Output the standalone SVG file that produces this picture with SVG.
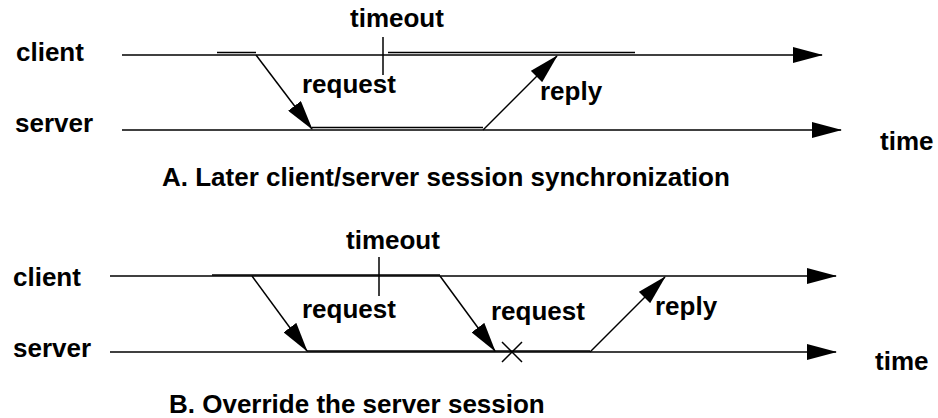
<svg xmlns="http://www.w3.org/2000/svg" width="938" height="418" viewBox="0 0 938 418">
<style>
text{font-family:"Liberation Sans",Arial,sans-serif;font-weight:bold;font-size:26px;fill:#000}
.ln{stroke:#000;stroke-width:1.5;fill:none}
.arr{stroke:#000;stroke-width:1.5;fill:none;marker-end:url(#ah)}
</style>
<defs>
<marker id="ah" viewBox="0 0 30 16" markerWidth="30" markerHeight="16" refX="29" refY="8" orient="auto" markerUnits="userSpaceOnUse">
<path d="M0,0 L30,8 L0,16 z" fill="#000"/>
</marker>
</defs>
<g id="diagramA">
<g id="A-client"><text x="16" y="61">client</text></g>
<g id="A-server"><text x="15" y="132">server</text></g>
<g id="A-timeout"><text x="350" y="27">timeout</text><line class="ln" x1="383" y1="37" x2="383" y2="75"/></g>
<g id="A-request-label"><text x="302" y="93">request</text></g>
<g id="A-reply-label"><text x="540" y="100">reply</text></g>
<g id="A-time"><text x="880" y="150">time</text></g>
<g id="A-title"><text x="162" y="186">A. Later client/server session synchronization</text></g>
</g>
<g id="diagramB">
<g id="B-client"><text x="13" y="286">client</text></g>
<g id="B-server"><text x="13" y="357">server</text></g>
<g id="B-timeout"><text x="346" y="249">timeout</text><line class="ln" x1="379" y1="257" x2="379" y2="296"/></g>
<g id="B-request1-label"><text x="302" y="318">request</text></g>
<g id="B-request2-label"><text x="491" y="320">request</text></g>
<g id="B-reply-label"><text x="655" y="315">reply</text></g>
<g id="B-time"><text x="875" y="370">time</text></g>
<g id="B-title"><text x="169" y="413">B. Override the server session</text></g>
<g id="B-lost"><path class="ln" d="M502,342 L522,362 M522,342 L502,362"/></g>
</g>
<g id="connectors">
<line class="arr" x1="122" y1="55" x2="822" y2="55"/>
<line class="arr" x1="122" y1="130" x2="841" y2="130"/>
<line class="ln" x1="217" y1="52.5" x2="256" y2="52.5"/>
<line class="ln" x1="388" y1="52.5" x2="635" y2="52.5"/>
<line class="ln" x1="312" y1="127.5" x2="483" y2="127.5"/>
<line class="arr" x1="256" y1="55" x2="312" y2="129"/>
<line class="arr" x1="483" y1="130" x2="557" y2="56"/>
<line class="arr" x1="110" y1="276" x2="836" y2="276"/>
<line class="arr" x1="110" y1="352" x2="836" y2="352"/>
<line class="ln" x1="212" y1="275" x2="440" y2="275"/>
<line class="ln" x1="307" y1="351" x2="590" y2="351"/>
<line class="arr" x1="252" y1="276" x2="307" y2="351"/>
<line class="arr" x1="440" y1="276" x2="495" y2="351"/>
<line class="arr" x1="590" y1="352" x2="665" y2="277"/>
</g>
</svg>
